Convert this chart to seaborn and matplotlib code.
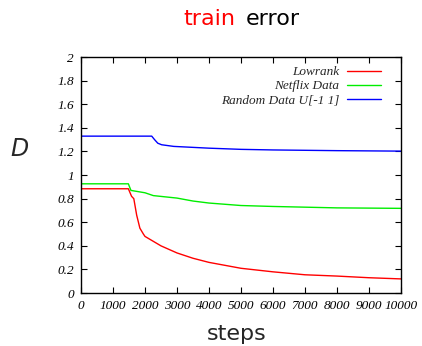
import numpy as np
import pandas as pd
import matplotlib
matplotlib.use("Agg")
import matplotlib.pyplot as plt
import seaborn as sns

# Data
lowrank_steps = [0, 1, 1480, 1580, 1650, 1740, 1840, 1950, 2000, 2500, 3000, 3500, 4000, 5000, 6000, 7000, 8000, 9000, 10000]
lowrank_vals = [1.10, 0.884, 0.884, 0.82, 0.80, 0.66, 0.55, 0.50, 0.48, 0.40, 0.34, 0.295, 0.26, 0.21, 0.18, 0.155, 0.144, 0.13, 0.12]

netflix_steps = [0, 1, 1480, 1560, 2000, 2260, 3000, 3500, 4000, 5000, 6000, 7000, 8000, 9000, 10000]
netflix_vals = [1.38, 0.926, 0.926, 0.87, 0.85, 0.826, 0.805, 0.78, 0.763, 0.742, 0.734, 0.728, 0.722, 0.72, 0.718]

random_steps = [0, 1, 2210, 2300, 2400, 2520, 2900, 4000, 5000, 6000, 8000, 10000]
random_vals = [1.66, 1.33, 1.33, 1.30, 1.27, 1.257, 1.243, 1.228, 1.218, 1.213, 1.207, 1.203]

series_names = ["Lowrank", "Netflix Data", "Random Data U[-1 1]"]
series_colors = ["#ff0000", "#00ee00", "#0000ff"]

x_ticks = list(range(0, 10001, 1000))
y_ticks = [0, 0.2, 0.4, 0.6, 0.8, 1, 1.2, 1.4, 1.6, 1.8, 2]
y_tick_labels = ["0", "0.2", "0.4", "0.6", "0.8", "1", "1.2", "1.4", "1.6", "1.8", "2"]

df = pd.concat([
    pd.DataFrame({"steps": lowrank_steps, "D": lowrank_vals, "series": series_names[0]}),
    pd.DataFrame({"steps": netflix_steps, "D": netflix_vals, "series": series_names[1]}),
    pd.DataFrame({"steps": random_steps, "D": random_vals, "series": series_names[2]}),
], ignore_index=True)

sns.set_style("white")

fig = plt.figure(figsize=(4.22, 3.46), dpi=100)
ax = fig.add_axes([0.192, 0.153, 0.758, 0.682])

sns.lineplot(data=df, x="steps", y="D", hue="series", hue_order=series_names,
             palette=series_colors, linewidth=1.0, ax=ax, sort=False, estimator=None)

ax.set_xlim(0, 10000)
ax.set_ylim(0, 2)
ax.set_xticks(x_ticks)
ax.set_xticklabels([str(t) for t in x_ticks])
ax.set_yticks(y_ticks)
ax.set_yticklabels(y_tick_labels)

for lab in ax.get_xticklabels() + ax.get_yticklabels():
    lab.set_fontfamily("Liberation Serif")
    lab.set_fontstyle("italic")
    lab.set_fontsize(9.5)

ax.tick_params(direction="in", length=4, width=0.8, top=True, right=True,
               bottom=True, left=True, colors="black", pad=5)
for s in ax.spines.values():
    s.set_color("black")
    s.set_linewidth(1.0)

ax.set_xlabel("")
ax.set_ylabel("")
fig.text(0.56, 0.035, "steps", fontsize=16, family="DejaVu Sans",
         ha="center", va="center")
fig.text(0.045, 0.57, "D", fontsize=17, style="italic", family="DejaVu Sans",
         ha="center", va="center")

# Title: "train" in red, "error" in black
fig.text(0.558, 0.945, "train", color="#ff0000", fontsize=16, family="DejaVu Sans",
         ha="right", va="center")
fig.text(0.583, 0.945, "error", color="black", fontsize=16, family="DejaVu Sans",
         ha="left", va="center")

leg = ax.legend(loc="upper right", frameon=False, markerfirst=False,
                prop={"family": "Liberation Serif", "style": "italic", "size": 9.5},
                handlelength=2.6, handletextpad=0.6, labelspacing=0.15,
                borderaxespad=0.0, bbox_to_anchor=(0.955, 0.985))

fig.savefig("out.png", dpi=100)
